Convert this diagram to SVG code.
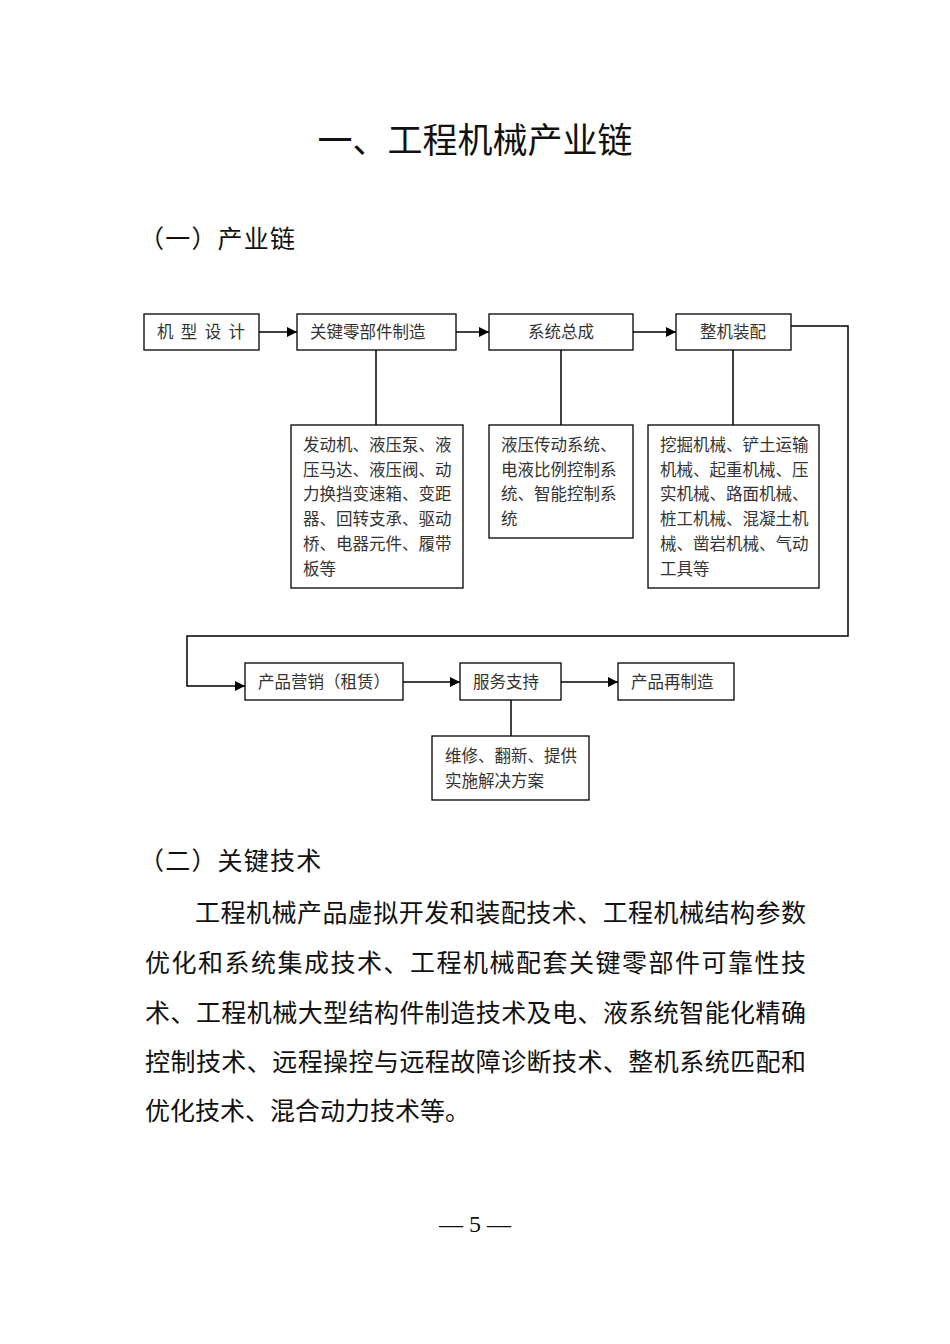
<svg xmlns="http://www.w3.org/2000/svg" width="950" height="1344" viewBox="0 0 950 1344">
<style>
.bx{fill:#fff;stroke:#000;stroke-width:1.3}
.bt{font-family:"Noto Sans CJK SC","Noto Sans CJK JP",sans-serif;font-size:16.5px;fill:#333}
.ln{fill:none;stroke:#000;stroke-width:1.5}
.h{font-family:"Noto Sans CJK SC",sans-serif;fill:#111}
.p{font-family:"Noto Sans CJK SC",sans-serif;font-size:25px;fill:#111}
</style>
<defs>
<marker id="ar" viewBox="0 0 10 10" refX="10" refY="5" markerWidth="10" markerHeight="10" markerUnits="userSpaceOnUse" orient="auto">
<path d="M0,0 L10,5 L0,10 z" fill="#000"/>
</marker>
</defs>
<rect width="950" height="1344" fill="#fff"/>
<text class="h" x="475" y="153" font-size="35" text-anchor="middle">一、工程机械产业链</text>
<text class="h" x="139" y="248" font-size="25" letter-spacing="1.2">（一）产业链</text>

<g id="connectors">
<line class="ln" x1="259" y1="332" x2="297" y2="332" marker-end="url(#ar)"/>
<line class="ln" x1="456" y1="332" x2="489" y2="332" marker-end="url(#ar)"/>
<line class="ln" x1="633" y1="332" x2="676" y2="332" marker-end="url(#ar)"/>
<line class="ln" x1="376" y1="350" x2="376" y2="425"/>
<line class="ln" x1="561" y1="350" x2="561" y2="425"/>
<line class="ln" x1="733" y1="350" x2="733" y2="425"/>
<polyline class="ln" points="791,326 848,326 848,636 187,636 187,686 245,686" marker-end="url(#ar)"/>
<line class="ln" x1="403" y1="682" x2="460" y2="682" marker-end="url(#ar)"/>
<line class="ln" x1="561" y1="682" x2="618" y2="682" marker-end="url(#ar)"/>
<line class="ln" x1="511" y1="700" x2="511" y2="736"/>
</g>

<g id="n1"><rect class="bx" x="144" y="314" width="115" height="36"/><text class="bt" x="157" y="338" textLength="88" lengthAdjust="spacing">机 型 设 计</text></g>
<g id="n2"><rect class="bx" x="297" y="314" width="159" height="36"/><text class="bt" x="310" y="338">关键零部件制造</text></g>
<g id="n3"><rect class="bx" x="489" y="314" width="144" height="36"/><text class="bt" x="561" y="338" text-anchor="middle">系统总成</text></g>
<g id="n4"><rect class="bx" x="676" y="314" width="115" height="36"/><text class="bt" x="733" y="338" text-anchor="middle">整机装配</text></g>

<g id="n5"><rect class="bx" x="291" y="425" width="172" height="163"/>
<text class="bt" x="303"><tspan x="303" y="451">发动机、液压泵、液</tspan><tspan x="303" y="476">压马达、液压阀、动</tspan><tspan x="303" y="500">力换挡变速箱、变距</tspan><tspan x="303" y="525">器、回转支承、驱动</tspan><tspan x="303" y="550">桥、电器元件、履带</tspan><tspan x="303" y="575">板等</tspan></text></g>
<g id="n6"><rect class="bx" x="489" y="425" width="144" height="113"/>
<text class="bt"><tspan x="501" y="451">液压传动系统、</tspan><tspan x="501" y="476">电液比例控制系</tspan><tspan x="501" y="500">统、智能控制系</tspan><tspan x="501" y="525">统</tspan></text></g>
<g id="n7"><rect class="bx" x="648" y="425" width="171" height="163"/>
<text class="bt"><tspan x="660" y="451">挖掘机械、铲土运输</tspan><tspan x="660" y="476">机械、起重机械、压</tspan><tspan x="660" y="500">实机械、路面机械、</tspan><tspan x="660" y="525">桩工机械、混凝土机</tspan><tspan x="660" y="550">械、凿岩机械、气动</tspan><tspan x="660" y="575">工具等</tspan></text></g>

<g id="n8"><rect class="bx" x="245" y="663" width="158" height="37"/><text class="bt" x="258" y="688">产品营销（租赁）</text></g>
<g id="n9"><rect class="bx" x="460" y="663" width="101" height="37"/><text class="bt" x="473" y="688">服务支持</text></g>
<g id="n10"><rect class="bx" x="618" y="663" width="116" height="37"/><text class="bt" x="631" y="688">产品再制造</text></g>
<g id="n11"><rect class="bx" x="432" y="736" width="157" height="64"/>
<text class="bt"><tspan x="445" y="762">维修、翻新、提供</tspan><tspan x="445" y="787">实施解决方案</tspan></text></g>

<text class="h" x="139" y="870" font-size="25" letter-spacing="1.2">（二）关键技术</text>
<text class="p" x="195" y="922" textLength="611" lengthAdjust="spacing">工程机械产品虚拟开发和装配技术、工程机械结构参数</text>
<text class="p" x="145" y="972" textLength="661" lengthAdjust="spacing">优化和系统集成技术、工程机械配套关键零部件可靠性技</text>
<text class="p" x="145" y="1022" textLength="661" lengthAdjust="spacing">术、工程机械大型结构件制造技术及电、液系统智能化精确</text>
<text class="p" x="145" y="1071" textLength="661" lengthAdjust="spacing">控制技术、远程操控与远程故障诊断技术、整机系统匹配和</text>
<text class="p" x="145" y="1120">优化技术、混合动力技术等。</text>
<text x="475" y="1232" font-family="Liberation Serif, serif" font-size="24" text-anchor="middle" fill="#111">— 5 —</text>
</svg>
